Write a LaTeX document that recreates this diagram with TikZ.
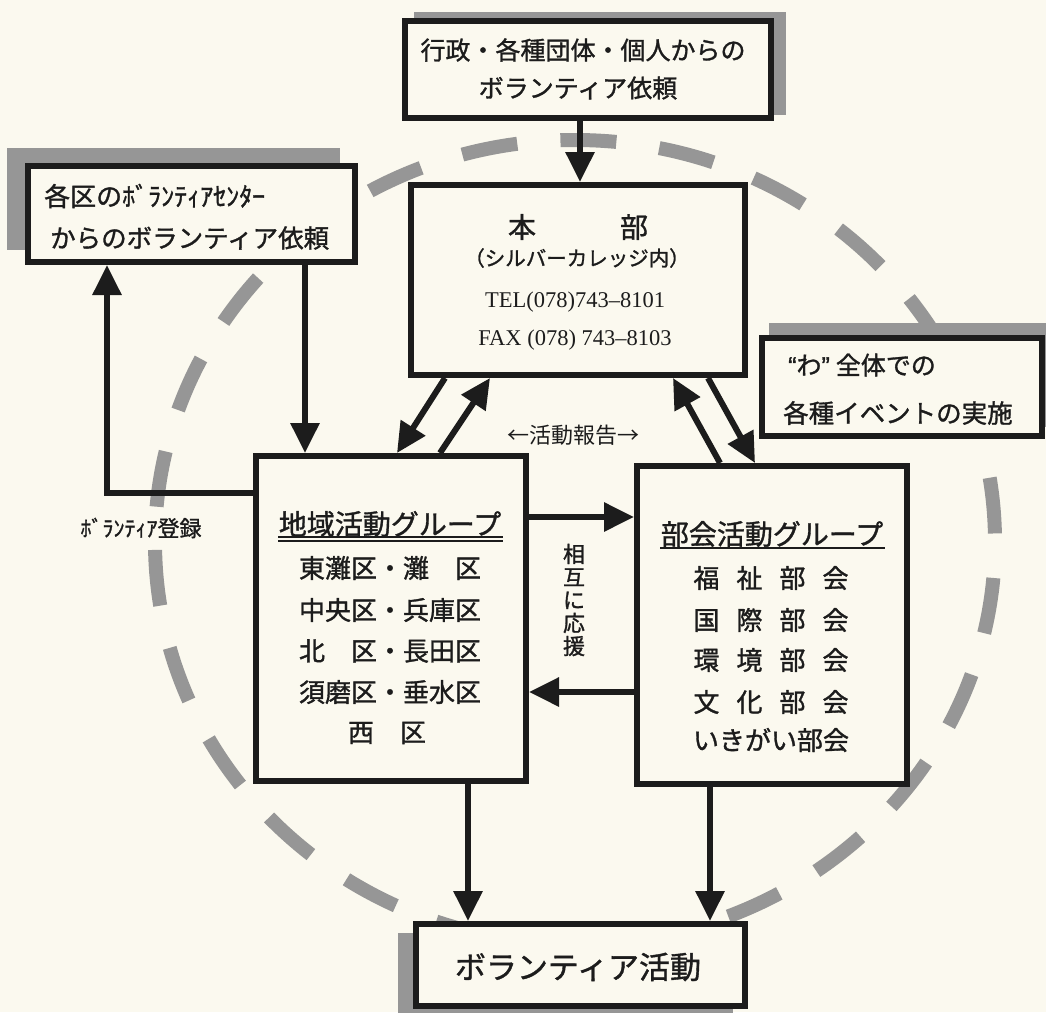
\documentclass[tikz,border=0pt]{standalone}
\usepackage{fontspec}
\setmainfont{Noto Sans CJK JP}[FakeBold=1.2]
\newfontfamily\thinjp{Noto Sans CJK JP}
\newfontfamily\telfont{Liberation Serif}
\newfontfamily\qfont{Liberation Sans}[FakeBold=1.2]
\usetikzlibrary{arrows.meta}
\definecolor{paper}{RGB}{251,249,239}
\definecolor{ink}{RGB}{28,28,28}
\definecolor{hatch}{RGB}{150,150,150}
\newcommand\fsz[1]{\fontsize{#1}{#1}\selectfont}
\begin{document}
\begin{tikzpicture}[x=1pt,y=-1pt,
  box/.style={draw=ink,line width=6pt,fill=paper,inner sep=0pt,outer sep=3pt},
  shade/.style={fill=hatch,draw=none},
  arr/.style={draw=ink,line width=6pt,-{Triangle[length=30pt,width=28pt]}},
  lbl/.style={inner sep=0pt,text=ink},
  ringstyle/.style={draw=hatch,line width=14pt,dash pattern=on 56pt off 43.3pt,dash phase=63.3pt}]
% canvas
\path[fill=paper] (0,0) rectangle (1046,1012);
\path[use as bounding box] (0,0) rectangle (1046,1012);
% dashed ring
\draw[ringstyle] (575,542) ellipse [x radius=420, y radius=402];
% shadows
\fill[shade] (414,12) rectangle (786,115);
\fill[shade] (7,148) rectangle (340,250);
\fill[shade] (769,323) rectangle (1055,427);
\fill[shade] (398,933) rectangle (733,1021);
% boxes
\node[box,minimum width=366pt,minimum height=97pt] (req1) at (588,69.5) {};
\node[box,minimum width=327pt,minimum height=96pt] (req2) at (191.5,214) {};
\node[box,minimum width=334pt,minimum height=190pt] (hq) at (578,280) {};
\node[box,minimum width=280pt,minimum height=98pt] (evt) at (902,387) {};
\node[box,minimum width=270pt,minimum height=325pt] (local) at (391,618.5) {};
\node[box,minimum width=270pt,minimum height=318pt] (bukai) at (772,625) {};
\node[box,minimum width=329pt,minimum height=82pt] (bot) at (580.5,965) {};
% column / row helpers
\coordinate (x1) at (580,0);
\coordinate (x2) at (305,0);
\coordinate (x3) at (107,0);
\coordinate (y3) at (0,493);
\coordinate (a1) at (445,0);
\coordinate (a2) at (397,0);
\coordinate (b1) at (440,0);
\coordinate (b2) at (490,0);
\coordinate (c1) at (720,0);
\coordinate (c2) at (673,0);
\coordinate (d1) at (708,0);
\coordinate (d2) at (755,0);
\coordinate (y6) at (0,517);
\coordinate (y7) at (0,692);
\coordinate (x8) at (468,0);
\coordinate (x9) at (710,0);
% connectors
\draw[arr] (req1.south -| x1) -- (hq.north -| x1);
\draw[arr] (req2.south -| x2) -- (local.north -| x2);
\draw[arr] (local.west |- y3) -| (x3 |- req2.south);
\draw[arr] (hq.south -| a1) -- (local.north -| a2);
\draw[arr] (local.north -| b1) -- (hq.south -| b2);
\draw[arr] (bukai.north -| c1) -- (hq.south -| c2);
\draw[arr] (hq.south -| d1) -- (bukai.north -| d2);
\draw[arr] (local.east |- y6) -- (bukai.west |- y6);
\draw[arr] (bukai.west |- y7) -- (local.east |- y7);
\draw[arr] (local.south -| x8) -- (bot.north -| x8);
\draw[arr] (bukai.south -| x9) -- (bot.north -| x9);
% texts: top request box
\node[lbl,font=\fsz{25}] (t1a) at (583,50) {行政・各種団体・個人からの};
\node[lbl,font=\fsz{25}] (t1b) at (578,88) {ボランティア依頼};
% ward volunteer centers
\node[lbl,font=\fsz{26},anchor=west] (t2a) at (44,196) {各区のﾎﾞﾗﾝﾃｨｱｾﾝﾀｰ};
\node[lbl,font=\fsz{25.5},anchor=west] (t2b) at (50,238) {からのボランティア依頼};
% headquarters
\node[lbl,font=\fsz{28}] (h1) at (578,227) {本　　　部};
\node[lbl,font=\fsz{20.5}] (h2) at (577,258) {（シルバーカレッジ内）};
\node[lbl,font=\telfont\fsz{22.5}] (h3) at (575,302) {TEL(078)743–8101};
\node[lbl,font=\telfont\fsz{22.5}] (h4) at (575,340) {FAX (078) 743–8103};
% events
\node[lbl,font=\fsz{25},anchor=west] (e1) at (788,365) {{\qfont “}わ{\qfont ”}\hspace{6pt}全体での};
\node[lbl,font=\fsz{25.5},anchor=west] (e2) at (783,413) {各種イベントの実施};
% local groups
\node[lbl,font=\fsz{28}] (lt) at (390,524) {地域活動グループ};
\draw[ink,line width=1.3pt] (278,537) -- (503,537);
\draw[ink,line width=1.3pt] (278,541) -- (503,541);
\node[lbl,font=\fsz{26}] (l1) at (390,568) {東灘区・灘　区};
\node[lbl,font=\fsz{26}] (l2) at (390,610) {中央区・兵庫区};
\node[lbl,font=\fsz{26}] (l3) at (390,651) {北　区・長田区};
\node[lbl,font=\fsz{26}] (l4) at (390,692) {須磨区・垂水区};
\node[lbl,font=\fsz{26}] (l5) at (387,733) {西　区};
% section groups
\node[lbl,font=\fsz{28}] (bt) at (772,534) {部会活動グループ};
\draw[ink,line width=2.5pt] (660,548) -- (885,548);
\node[lbl,font=\fsz{26}] (b1t) at (771,578) {福\hspace{17pt}祉\hspace{17pt}部\hspace{17pt}会};
\node[lbl,font=\fsz{26}] (b2t) at (771,620) {国\hspace{17pt}際\hspace{17pt}部\hspace{17pt}会};
\node[lbl,font=\fsz{26}] (b3t) at (771,660) {環\hspace{17pt}境\hspace{17pt}部\hspace{17pt}会};
\node[lbl,font=\fsz{26}] (b4t) at (771,702) {文\hspace{17pt}化\hspace{17pt}部\hspace{17pt}会};
\node[lbl,font=\fsz{26}] (b5t) at (771,740) {いきがい部会};
% bottom
\node[lbl,font=\fsz{31}] (bb) at (578,967) {ボランティア活動};
% free labels
\node[lbl,font=\thinjp\fsz{22}] (rep) at (573,435) {←活動報告→};
\node[lbl,align=center,font={\fontsize{22}{23}\selectfont}] (mut) at (574,600) {相\\互\\に\\応\\援};
\node[lbl,font=\fsz{22}] (reg) at (141,528) {ﾎﾞﾗﾝﾃｨｱ登録};
\end{tikzpicture}
\end{document}
